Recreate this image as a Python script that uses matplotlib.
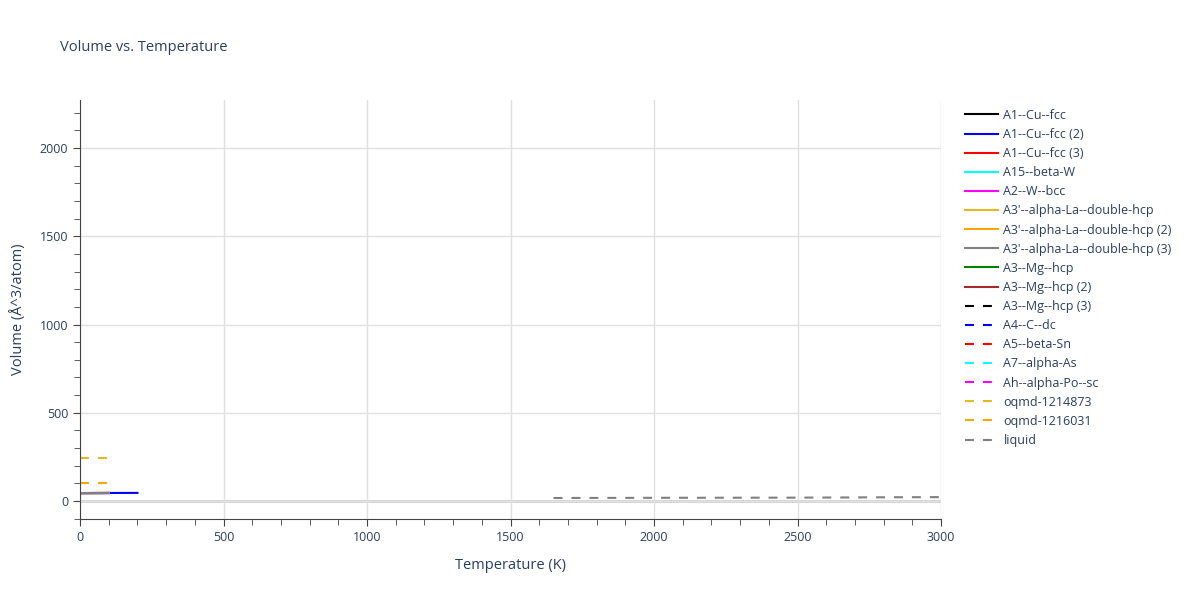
import numpy as np
import matplotlib
matplotlib.use("Agg")
import matplotlib.pyplot as plt
from matplotlib.ticker import MultipleLocator

plt.rcParams["font.family"] = ["Open Sans", "DejaVu Sans"]

# Series names, colours and styles as in the legend
names = ["A1--Cu--fcc", "A1--Cu--fcc (2)", "A1--Cu--fcc (3)", "A15--beta-W",
         "A2--W--bcc", "A3'--alpha-La--double-hcp", "A3'--alpha-La--double-hcp (2)",
         "A3'--alpha-La--double-hcp (3)", "A3--Mg--hcp", "A3--Mg--hcp (2)",
         "A3--Mg--hcp (3)", "A4--C--dc", "A5--beta-Sn", "A7--alpha-As",
         "Ah--alpha-Po--sc", "oqmd-1214873", "oqmd-1216031", "liquid"]
colors = ["black", "blue", "red", "cyan", "magenta", "#e6b820", "orange", "gray",
          "green", "brown", "black", "blue", "red", "cyan", "magenta",
          "#e6b820", "orange", "gray"]
dashed = [False] * 10 + [True] * 8

# Temperature (K) and volume (A^3/atom);
# series that are not visible in the chart are left empty
temps = {
    "A1--Cu--fcc": [0, 100],
    "A1--Cu--fcc (2)": [0, 100, 200],
    "A1--Cu--fcc (3)": [0, 100],
    "A15--beta-W": [0, 100],
    "A2--W--bcc": [0, 100],
    "A3'--alpha-La--double-hcp": [0, 100],
    "A3'--alpha-La--double-hcp (2)": [0, 100],
    "A3'--alpha-La--double-hcp (3)": [0, 100],
    "A3--Mg--hcp": [],
    "A3--Mg--hcp (2)": [],
    "A3--Mg--hcp (3)": [],
    "A4--C--dc": [],
    "A5--beta-Sn": [],
    "A7--alpha-As": [],
    "Ah--alpha-Po--sc": [],
    "oqmd-1214873": [0, 100],
    "oqmd-1216031": [0, 100],
    "liquid": [1650, 2000, 2500, 2800, 3000],
}
volumes = {
    "A1--Cu--fcc": [45, 45.5],
    "A1--Cu--fcc (2)": [45, 45.5, 46],
    "A1--Cu--fcc (3)": [45, 45.5],
    "A15--beta-W": [44, 44.5],
    "A2--W--bcc": [44, 44.5],
    "A3'--alpha-La--double-hcp": [45, 45.5],
    "A3'--alpha-La--double-hcp (2)": [45, 45.5],
    "A3'--alpha-La--double-hcp (3)": [45, 45.5],
    "A3--Mg--hcp": [],
    "A3--Mg--hcp (2)": [],
    "A3--Mg--hcp (3)": [],
    "A4--C--dc": [],
    "A5--beta-Sn": [],
    "A7--alpha-As": [],
    "Ah--alpha-Po--sc": [],
    "oqmd-1214873": [243, 243],
    "oqmd-1216031": [102, 102],
    "liquid": [17, 18, 19, 21, 22],
}

text_col = "#2a3f5f"
fig = plt.figure(figsize=(12, 6), dpi=100)
ax = fig.add_axes([0.0667, 0.135, 0.7175, 0.6983])

for name, c, d in zip(names, colors, dashed):
    ax.plot(temps[name], volumes[name], color=c, lw=1.5,
            linestyle=(0, (4.3, 4.3)) if d else "-", label=name)

ax.axhline(0, color="#d0d0d0", lw=2, zorder=0)
ax.set_xlim(0, 3000)
ax.set_ylim(-102, 2272)
ax.xaxis.set_major_locator(MultipleLocator(500))
ax.xaxis.set_minor_locator(MultipleLocator(100))
ax.yaxis.set_major_locator(MultipleLocator(500))
ax.yaxis.set_minor_locator(MultipleLocator(100))
ax.grid(True, which="major", color="#e0e0e0", lw=1)
ax.set_axisbelow(True)
for s in ["top", "right"]:
    ax.spines[s].set_visible(False)
for s in ["left", "bottom"]:
    ax.spines[s].set_color("#444444")
ax.tick_params(which="both", direction="out", color="#444444", labelcolor=text_col,
               labelsize=9)
ax.tick_params(which="major", length=5)
ax.tick_params(which="minor", length=4)
ax.set_xlabel("Temperature (K)", color=text_col, fontsize=10.5, labelpad=10)
ax.set_ylabel("Volume (Å^3/atom)", color=text_col, fontsize=10.5, labelpad=10)
fig.text(0.05, 0.915, "Volume vs. Temperature", color=text_col, fontsize=10.5)

leg = ax.legend(loc="upper left", bbox_to_anchor=(1.018, 1.0), frameon=False,
                fontsize=9, handlelength=2.6, handletextpad=0.45,
                labelspacing=0.49, borderaxespad=0.3)
for t in leg.get_texts():
    t.set_color(text_col)

fig.savefig("out.png")
